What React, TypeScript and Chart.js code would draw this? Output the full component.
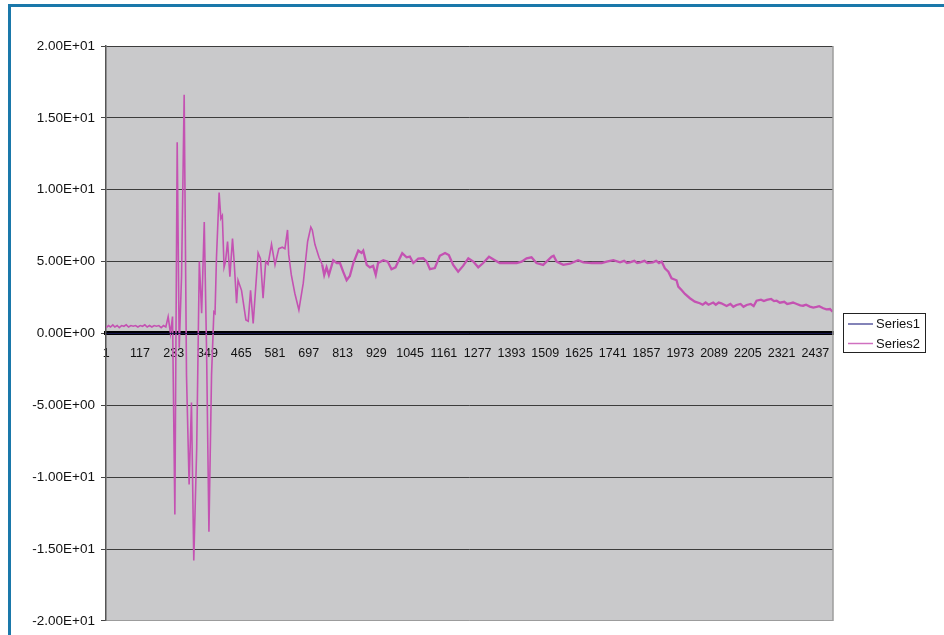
import React, { useEffect, useRef } from "react";
import { Chart, registerables } from "chart.js";

Chart.register(...registerables);

const X_TICKS = [1, 117, 233, 349, 465, 581, 697, 813, 929, 1045, 1161, 1277, 1393, 1509, 1625, 1741, 1857, 1973, 2089, 2205, 2321, 2437];
const POINT_COUNT = 2497;
const Y_MIN = -20;
const Y_MAX = 20;
const Y_STEP = 5;

const SERIES1_X = [1, 2497];
const SERIES1_Y = [0, 0];

const SERIES2_X = [
  1, 9, 16, 24, 31, 39, 46, 54, 62, 70, 78, 86, 94, 102, 110, 118, 126, 134, 142, 150, 158, 166, 174, 182, 190, 198, 206,
  214, 222, 229, 237, 245, 252, 260, 269, 277, 286, 294, 302, 312, 321, 329, 338, 346, 354, 363, 371, 375, 380, 389, 395,
  400, 406, 411, 418, 426, 435, 440, 449, 454, 466, 481, 489, 497, 506, 523, 531, 540, 549, 557, 569, 581, 594, 606, 615,
  624, 628, 637, 649, 663, 678, 693, 704, 709, 718, 732, 743, 750, 758, 766, 781, 793, 804, 815, 827, 838, 850, 867, 878,
  884, 896, 907, 918, 927, 935, 953, 968, 981, 995, 1004, 1018, 1033, 1044, 1056, 1073, 1090, 1102, 1113, 1130, 1147, 1165,
  1178, 1193, 1210, 1227, 1245, 1262, 1279, 1296, 1316, 1336, 1353, 1381, 1411, 1428, 1445, 1462, 1479, 1502, 1519, 1531,
  1538, 1548, 1571, 1594, 1622, 1640, 1668, 1703, 1720, 1743, 1766, 1780, 1790, 1800, 1815, 1825, 1835, 1850, 1860, 1879,
  1890, 1900, 1909, 1920, 1932, 1943, 1960, 1966, 1978, 1989, 2006, 2023, 2040, 2050, 2060, 2070, 2086, 2095, 2105, 2114,
  2132, 2145, 2155, 2166, 2180, 2190, 2201, 2215, 2225, 2235, 2250, 2260, 2270, 2285, 2295, 2304, 2315, 2330, 2340, 2350,
  2360, 2373, 2385, 2395, 2405, 2418, 2430, 2441, 2450, 2464, 2475, 2487, 2496,
];
const SERIES2_Y = [
  0.4, 0.55, 0.45, 0.6, 0.45, 0.55, 0.4, 0.55, 0.5, 0.6, 0.45, 0.55, 0.5, 0.55, 0.45, 0.55, 0.5, 0.6, 0.45, 0.55, 0.45, 0.55, 0.5, 0.55, 0.4, 0.55, 0.45,
  1.17, 0.0, 1.17, -12.6, 13.3, -1.0, 4.0, 16.6, -2.9, -10.5, -4.8, -15.8, -8.0, 5.0, 1.4, 7.76, -1.3, -13.8, -2.9, 1.5, 1.4, 5.3, 9.8, 8.0,
  8.2, 4.6, 5.0, 6.4, 3.95, 6.6, 5.2, 2.1, 3.7, 3.0, 0.94, 0.85, 3.0, 0.7, 5.6, 5.2, 2.45, 5.0, 4.8, 6.2, 4.77, 5.9, 6.0, 5.9,
  7.2, 5.5, 4.07, 2.8, 1.63, 3.5, 6.4, 7.4, 7.2, 6.2, 5.3, 4.8, 4.07, 4.6, 4.07, 5.1, 4.9, 4.9, 4.3, 3.7, 4.0, 4.9, 5.76, 5.6,
  5.76, 4.77, 4.6, 4.7, 4.07, 4.9, 5.1, 5.0, 4.47, 4.6, 5.0, 5.58, 5.3, 5.35, 4.9, 5.2, 5.23, 5.0, 4.47, 4.55, 5.4, 5.6,
  5.45, 4.77, 4.3, 4.7, 5.23, 5.0, 4.6, 4.9, 5.34, 5.1, 4.9, 4.9, 4.9, 5.0, 5.23, 5.3, 4.9, 4.77, 5.1, 5.34,
  5.4, 5.0, 4.77, 4.85, 5.1, 4.95, 4.9, 4.9, 5.0, 5.1, 4.95, 5.05, 4.9, 4.95, 5.05, 4.9, 4.95, 5.05, 4.9, 4.95,
  5.05, 4.9, 5.0, 4.53, 4.3, 3.84, 3.7, 3.26, 3.0, 2.75, 2.45, 2.21, 2.1, 2.0, 2.15, 2.0, 2.15, 2.0, 2.15, 2.1,
  1.91, 2.05, 1.85, 1.98, 2.05, 1.85, 1.98, 2.05, 1.9, 2.28, 2.35, 2.25, 2.33, 2.4, 2.25, 2.28, 2.14, 2.2, 2.05, 2.1,
  2.15, 2.05, 1.95, 1.93, 2.0, 1.87, 1.8, 1.85, 1.9, 1.75, 1.68, 1.7, 1.52,
];

const FONT = "'Liberation Sans', Arial, sans-serif";

function sci(v: number): string {
  if (v === 0) return "0.00E+00";
  const e = Math.floor(Math.log10(Math.abs(v)) + 1e-9);
  const m = v / Math.pow(10, e);
  return m.toFixed(2) + "E" + (e >= 0 ? "+" : "-") + String(Math.abs(e)).padStart(2, "0");
}

const plotBg = {
  id: "plotBg",
  beforeDraw(chart: any) {
    const { ctx, chartArea: a } = chart;
    ctx.save();
    ctx.fillStyle = "#c9c9cb";
    ctx.fillRect(a.left, a.top, a.right - a.left, a.bottom - a.top);
    ctx.restore();
  },
  afterDraw(chart: any) {
    const { ctx, chartArea: a } = chart;
    ctx.save();
    ctx.strokeStyle = "#9c9c9c";
    ctx.lineWidth = 1.5;
    ctx.beginPath();
    ctx.moveTo(a.right, a.top);
    ctx.lineTo(a.right, a.bottom);
    ctx.stroke();
    // legend box
    const lx = 843.5, ly = 313.5, lw = 82, lh = 39;
    ctx.fillStyle = "#ffffff";
    ctx.fillRect(lx, ly, lw, lh);
    ctx.strokeStyle = "#222222";
    ctx.lineWidth = 1;
    ctx.strokeRect(lx, ly, lw, lh);
    const items = [
      { text: chart.data.datasets[0].label, color: "#5a5aa0", y: 324 },
      { text: chart.data.datasets[1].label, color: "#d070c0", y: 343.5 },
    ];
    ctx.font = "13px " + FONT;
    ctx.textBaseline = "middle";
    ctx.textAlign = "left";
    for (const it of items) {
      ctx.strokeStyle = it.color;
      ctx.lineWidth = 1.5;
      ctx.beginPath();
      ctx.moveTo(848, it.y);
      ctx.lineTo(873, it.y);
      ctx.stroke();
      ctx.fillStyle = "#111111";
      ctx.fillText(it.text, 876, it.y + 0.5);
    }
    ctx.restore();
  },
};

export default function App() {
  const ref = useRef<HTMLCanvasElement | null>(null);
  useEffect(() => {
    if (!ref.current) return;
    const s1 = SERIES1_X.map((x, i) => ({ x, y: SERIES1_Y[i] }));
    const s2 = SERIES2_X.map((x, i) => ({ x, y: SERIES2_Y[i] }));
    const chart = new Chart(ref.current, {
      type: "line",
      data: {
        datasets: [
          { label: "Series1", data: s1, borderColor: "#1a1a50", borderWidth: 1, pointRadius: 0, tension: 0 },
          {
            label: "Series2",
            data: s2,
            borderColor: "#c452b2",
            borderWidth: 1.6,
            pointRadius: 0,
            tension: 0,
            segment: {
              borderWidth: (c: any) => (c.p0.parsed.x >= 740 ? 2.3 : 1.6),
            },
          } as any,
        ],
      },
      options: {
        animation: false,
        responsive: false,
        devicePixelRatio: 1,
        events: [],
        layout: { padding: { left: 0, top: 46, right: 111, bottom: 14 } },
        plugins: { legend: { display: false }, tooltip: { enabled: false } },
        scales: {
          x: {
            type: "linear",
            position: { y: 0 } as any,
            min: 0.5,
            max: POINT_COUNT + 0.5,
            afterBuildTicks: (scale: any) => {
              scale.ticks = X_TICKS.map((v) => ({ value: v }));
            },
            grid: { display: false, drawTicks: false },
            border: { display: true, color: "#000000", width: 4 },
            ticks: {
              autoSkip: false,
              maxRotation: 0,
              minRotation: 0,
              padding: 13,
              color: "#111111",
              font: { family: FONT, size: 12.5 },
              callback: (v: any) => String(v),
            },
          },
          y: {
            type: "linear",
            min: Y_MIN,
            max: Y_MAX,
            afterFit: (scale: any) => {
              scale.width = 106;
            },
            grid: {
              color: (c: any) => (c.tick && c.tick.value === Y_MIN ? "#9c9c9c" : "#3c3c3c"),
              lineWidth: 1,
              drawTicks: true,
              tickLength: 5,
              tickColor: "#444444",
            },
            border: { display: true, color: "#555555", width: 1.5 },
            ticks: {
              stepSize: Y_STEP,
              padding: 6,
              color: "#111111",
              font: { family: FONT, size: 13.5 },
              callback: (v: any) => sci(Number(v)),
            },
          },
        },
      },
      plugins: [plotBg],
    });
    return () => chart.destroy();
  }, []);

  return (
    <div style={{ position: "absolute", left: 0, top: 0, width: 944, height: 635, overflow: "hidden", background: "#ffffff" }}>
      <div
        style={{
          position: "absolute",
          left: 8,
          top: 4,
          width: 1200,
          height: 1200,
          borderLeft: "3px solid #1a78aa",
          borderTop: "3px solid #1a78aa",
        }}
      />
      <canvas ref={ref} width={944} height={635} style={{ position: "absolute", left: 0, top: 0, width: 944, height: 635 }} />
    </div>
  );
}
